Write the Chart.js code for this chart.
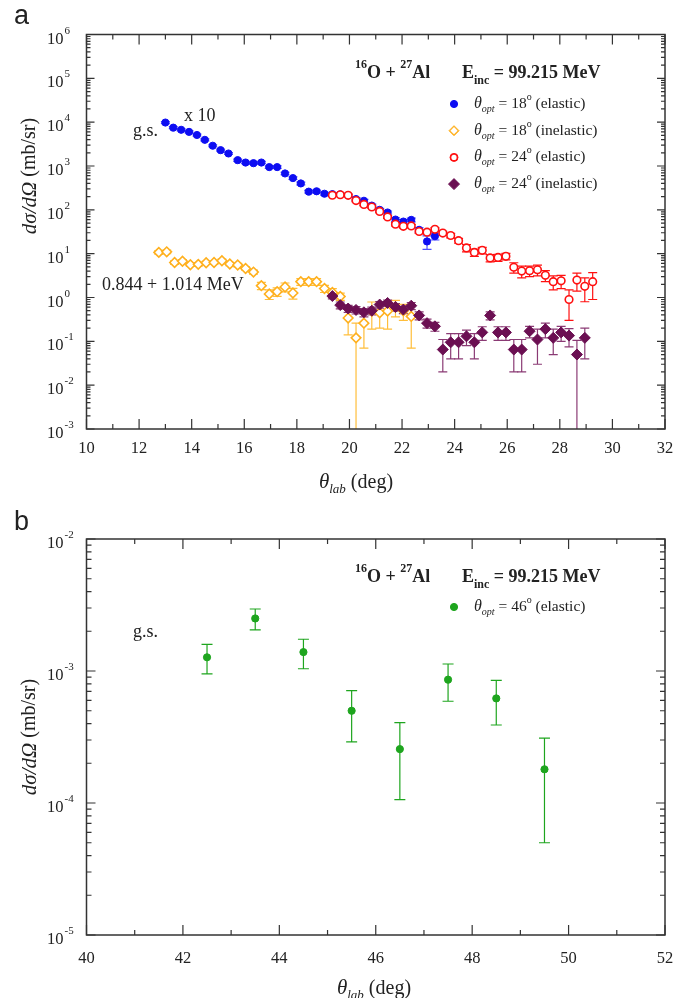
<!DOCTYPE html>
<html>
<head>
<meta charset="utf-8">
<script src="https://cdn.jsdelivr.net/npm/chart.js@4.4.0/dist/chart.umd.min.js"></script>
<style>
    html, body { margin: 0; padding: 0; background: #fff; }
    canvas { position: absolute; left: 0; }
    #graficoA { top: 0; }
    #graficoB { top: 499px; }
</style>
</head>
<body>
<canvas id="graficoA" width="688" height="499"></canvas>
<canvas id="graficoB" width="688" height="499"></canvas>
<script>
// Painel a: theta_lab (graus) e dσ/dΩ (mb/sr)
const thetaEl18 = [13.0, 13.3, 13.6, 13.9, 14.2, 14.5, 14.8, 15.1, 15.4, 15.75, 16.05, 16.35, 16.65, 16.95, 17.25, 17.55, 17.85, 18.15, 18.45, 18.75, 19.05, 19.35, 19.65, 19.95, 20.25, 20.55, 20.85, 21.15, 21.45, 21.75, 22.05, 22.35, 22.65, 22.95, 23.25];
const sigmaEl18 = [9800, 7500, 6700, 6000, 5100, 3950, 2900, 2300, 1930, 1360, 1200, 1160, 1200, 944, 944, 676, 530, 400, 260, 265, 233, 228, 225, 215, 176, 161, 125, 100, 87, 60, 54, 59, 35, 19, 25];
const erroEl18 = [500, 400, 350, 300, 260, 200, 150, 120, 100, 80, 70, 70, 70, 60, 60, 45, 35, 28, 18, 18, 16, 16, 16, 15, 13, 12, 10, 8, 7, 6, 6, 6, 4, 6.5, 4.5];

const thetaIn18 = [12.75, 13.05, 13.35, 13.65, 13.95, 14.25, 14.55, 14.85, 15.15, 15.45, 15.75, 16.05, 16.35, 16.65, 16.95, 17.25, 17.55, 17.85, 18.15, 18.45, 18.75, 19.05, 19.35, 19.65, 19.95, 20.25, 20.55, 20.85, 21.15, 21.45, 21.75, 22.05, 22.35];
const sigmaIn18 = [10.7, 11, 6.3, 6.7, 5.6, 5.7, 6.2, 6.3, 6.9, 5.8, 5.5, 4.6, 3.8, 1.86, 1.2, 1.36, 1.74, 1.27, 2.3, 2.3, 2.3, 1.6, 1.3, 1.06, 0.34, 0.12, 0.26, 0.49, 0.45, 0.49, 0.61, 0.5, 0.37];
const erroIn18 = [1.0, 1.0, 0.6, 0.6, 0.5, 0.5, 0.5, 0.5, 0.6, 0.5, 0.5, 0.4, 0.4, 0.35, 0.3, 0.3, 0.4, 0.35, 0.4, 0.4, 0.4, 0.3, 0.3, 0.2, 0.2, 0.14, 0.19, 0.3, 0.25, 0.3, 0.25, 0.2, 0.3];

const thetaEl24 = [19.35, 19.65, 19.95, 20.25, 20.55, 20.85, 21.15, 21.45, 21.75, 22.05, 22.35, 22.65, 22.95, 23.25, 23.55, 23.85, 24.15, 24.45, 24.75, 25.05, 25.35, 25.65, 25.95, 26.25, 26.55, 26.85, 27.15, 27.45, 27.75, 28.05, 28.35, 28.65, 28.95, 29.25];
const sigmaEl24 = [215, 221, 214, 163, 133, 116, 92, 69, 47, 42, 43, 32, 31, 36, 29.5, 26, 19.8, 13.5, 10.7, 11.9, 8.0, 8.2, 8.7, 4.9, 4.0, 4.1, 4.3, 3.2, 2.3, 2.4, 0.9, 2.5, 1.8, 2.3];
const erroEl24 = [12, 12, 12, 10, 8, 7, 6, 5, 4, 3.5, 3.5, 3, 3, 3, 3, 3, 2.5, 2.5, 2, 2, 1.5, 1.5, 1.5, 1.3, 1.2, 1.1, 1.2, 0.9, 0.8, 0.8, 0.6, 1.1, 1.0, 1.4];

const thetaIn24 = [19.35, 19.65, 19.95, 20.25, 20.55, 20.85, 21.15, 21.45, 21.75, 22.05, 22.35, 22.65, 22.95, 23.25, 23.55, 23.85, 24.15, 24.45, 24.75, 25.05, 25.35, 25.65, 25.95, 26.25, 26.55, 26.85, 27.15, 27.45, 27.75, 28.05, 28.35, 28.65, 28.95];
const sigmaIn24 = [1.08, 0.67, 0.56, 0.52, 0.46, 0.5, 0.69, 0.75, 0.61, 0.53, 0.65, 0.39, 0.26, 0.22, 0.065, 0.095, 0.095, 0.13, 0.095, 0.16, 0.39, 0.16, 0.16, 0.065, 0.065, 0.17, 0.11, 0.19, 0.12, 0.16, 0.135, 0.05, 0.12];
const erroIn24 = [0.15, 0.12, 0.1, 0.1, 0.1, 0.1, 0.12, 0.12, 0.12, 0.1, 0.12, 0.08, 0.06, 0.05, 0.045, 0.055, 0.055, 0.05, 0.055, 0.055, 0.08, 0.055, 0.055, 0.045, 0.045, 0.05, 0.08, 0.07, 0.07, 0.06, 0.06, 0.055, 0.08];

// Painel b
const thetaEl46 = [42.5, 43.5, 44.5, 45.5, 46.5, 47.5, 48.5, 49.5];
const sigmaEl46 = [1.27e-3, 2.5e-3, 1.39e-3, 5.0e-4, 2.56e-4, 8.6e-4, 6.2e-4, 1.8e-4];
const erroEl46 = [3.2e-4, 4.5e-4, 3.5e-4, 2.1e-4, 1.5e-4, 2.7e-4, 2.3e-4, 1.3e-4];

// Ticks dos eixos
const ticksXA = [10, 12, 14, 16, 18, 20, 22, 24, 26, 28, 30, 32];
const ticksXB = [40, 42, 44, 46, 48, 50, 52];
const expoentesA = [-3, -2, -1, 0, 1, 2, 3, 4, 5, 6];
const expoentesB = [-5, -4, -3, -2];

const SERIF = "'Liberation Serif', 'Times New Roman', serif";
const SANS = "'Liberation Sans', Arial, sans-serif";
const COR_EIXO = '#333';

document.addEventListener("DOMContentLoaded", function () {

    function pontos(xs, ys) {
        return xs.map((x, i) => ({ x: x, y: ys[i] }));
    }

    // Escreve texto em pedaços (para sub e sobrescritos)
    function partes(ctx, x, y, lista) {
        let cx = x;
        for (const p of lista) {
            ctx.font = p[1];
            ctx.fillText(p[0], cx, y + (p[2] || 0));
            cx += ctx.measureText(p[0]).width;
        }
        return cx;
    }

    function larguraPartes(ctx, lista) {
        let w = 0;
        for (const p of lista) {
            ctx.font = p[1];
            w += ctx.measureText(p[0]).width;
        }
        return w;
    }

    // Barras de erro desenhadas antes dos marcadores
    const barrasErro = {
        id: 'barrasErro',
        beforeDatasetsDraw(chart) {
            const ctx = chart.ctx;
            const area = chart.chartArea;
            const x = chart.scales.x, y = chart.scales.y;
            const aba = chart.options.plugins.barrasErro.aba;
            ctx.save();
            ctx.beginPath();
            ctx.rect(area.left, area.top, area.right - area.left, area.bottom - area.top);
            ctx.clip();
            for (let d = chart.data.datasets.length - 1; d >= 0; d--) {
                const ds = chart.data.datasets[d];
                ctx.strokeStyle = ds.corErro;
                ctx.lineWidth = 1.2;
                ds.data.forEach(function (p, i) {
                    const e = ds.erros[i];
                    const px = x.getPixelForValue(p.x);
                    const yCima = y.getPixelForValue(p.y + e);
                    const baixo = p.y - e;
                    const yBaixo = baixo > 0 ? y.getPixelForValue(baixo) : area.bottom + 5;
                    ctx.beginPath();
                    ctx.moveTo(px, yCima);
                    ctx.lineTo(px, yBaixo);
                    ctx.moveTo(px - aba, yCima);
                    ctx.lineTo(px + aba, yCima);
                    if (baixo > 0) {
                        ctx.moveTo(px - aba, yBaixo);
                        ctx.lineTo(px + aba, yBaixo);
                    }
                    ctx.stroke();
                });
            }
            ctx.restore();
        }
    };

    // Moldura, ticks para dentro nos quatro lados e rótulos 10^n
    function fazerMoldura(expoentes, tamMaior, tamMenor) {
        return {
            id: 'moldura',
            afterDraw(chart) {
                const ctx = chart.ctx;
                const a = chart.chartArea;
                const x = chart.scales.x, y = chart.scales.y;
                ctx.save();
                ctx.strokeStyle = COR_EIXO;
                ctx.lineWidth = 1.5;
                ctx.strokeRect(a.left, a.top, a.right - a.left, a.bottom - a.top);
                ctx.lineWidth = 1.2;
                ctx.beginPath();
                for (let v = x.min; v <= x.max; v++) {
                    const px = x.getPixelForValue(v);
                    const t = (v % 2 === 0) ? 10 : 5;
                    ctx.moveTo(px, a.bottom); ctx.lineTo(px, a.bottom - t);
                    ctx.moveTo(px, a.top); ctx.lineTo(px, a.top + t);
                }
                for (let k = 0; k < expoentes.length; k++) {
                    const base = Math.pow(10, expoentes[k]);
                    for (let m = 1; m <= 9; m++) {
                        if (k === expoentes.length - 1 && m > 1) break;
                        const py = y.getPixelForValue(m * base);
                        const t = m === 1 ? tamMaior : tamMenor;
                        ctx.moveTo(a.left, py); ctx.lineTo(a.left + t, py);
                        ctx.moveTo(a.right, py); ctx.lineTo(a.right - t, py);
                    }
                }
                ctx.stroke();

                ctx.fillStyle = '#222';
                ctx.textAlign = 'left';
                ctx.textBaseline = 'alphabetic';
                for (const e of expoentes) {
                    const py = y.getPixelForValue(Math.pow(10, e));
                    ctx.font = '16.5px ' + SERIF;
                    ctx.fillText('10', 47, py + 9);
                    ctx.font = '11px ' + SERIF;
                    ctx.fillText(String(e), 64.5, py - 1);
                }
                ctx.restore();
            }
        };
    }

    // Títulos dos eixos, cabeçalho e legenda
    function fazerTextos(cfg) {
        return {
            id: 'textos',
            afterDraw(chart) {
                const ctx = chart.ctx;
                const area = chart.chartArea;
                ctx.save();
                ctx.fillStyle = '#222';
                ctx.textAlign = 'left';
                ctx.textBaseline = 'alphabetic';

                // letra do painel
                ctx.font = '27px ' + SANS;
                ctx.fillText(cfg.letra, 14, cfg.yLetra);

                // título x
                const tx = [['θ', 'italic 21px ' + SERIF], ['lab', 'italic 13px ' + SERIF, 5], [' (deg)', '20px ' + SERIF]];
                partes(ctx, cfg.xTituloX - larguraPartes(ctx, tx) / 2, area.bottom + 59, tx);

                // título y (girado)
                const ty = [['dσ/dΩ', 'italic 21px ' + SERIF], [' (mb/sr)', '20px ' + SERIF]];
                const wy = larguraPartes(ctx, ty);
                ctx.save();
                ctx.translate(30, cfg.yTituloY);
                ctx.rotate(-Math.PI / 2);
                ctx.textBaseline = 'middle';
                partes(ctx, -wy / 2, 0, ty);
                ctx.restore();

                // cabeçalho
                const yc = area.top + 43;
                const b18 = 'bold 18px ' + SERIF, b12 = 'bold 12px ' + SERIF;
                partes(ctx, 355, yc, [['16', b12, -10], ['O + ', b18], ['27', b12, -10], ['Al', b18]]);
                partes(ctx, 462, yc, [['E', b18], ['inc', b12, 6], [' = 99.215 MeV', b18]]);

                // legenda
                cfg.legenda.forEach(function (item, i) {
                    const ly = area.top + cfg.yLegenda + i * 26.7;
                    ctx.fillStyle = item.cor;
                    ctx.strokeStyle = item.cor;
                    Chart.helpers.drawPoint(ctx, {
                        pointStyle: item.estilo, radius: item.raio, borderWidth: item.borda, rotation: 0
                    }, 454, ly);
                    if (item.vazio) {
                        ctx.fillStyle = '#fff';
                        Chart.helpers.drawPoint(ctx, {
                            pointStyle: item.estilo, radius: item.raio - 1.4, borderWidth: 0, rotation: 0
                        }, 454, ly);
                    }
                    ctx.fillStyle = '#222';
                    const r = '15.5px ' + SERIF, ri = 'italic 16px ' + SERIF, s = '10px ' + SERIF;
                    partes(ctx, 474, ly + 4, [['θ', ri], ['opt', 'italic 10px ' + SERIF, 4], [' = ' + item.angulo, r], ['o', s, -8], [' (' + item.tipo + ')', r]]);
                });

                // anotações
                ctx.font = '18px ' + SERIF;
                cfg.notas.forEach(function (n) {
                    ctx.fillText(n[0], n[1], n[2]);
                });
                ctx.restore();
            }
        };
    }

    function criarGrafico(idCanvas, cfg) {
        const ctx = document.getElementById(idCanvas).getContext('2d');
        return new Chart(ctx, {
            type: 'scatter',
            data: { datasets: cfg.datasets },
            options: {
                responsive: false,
                animation: false,
                devicePixelRatio: 1,
                layout: { padding: { top: cfg.topo, right: 23, left: 0, bottom: 0 } },
                plugins: {
                    legend: { display: false },
                    tooltip: { enabled: false },
                    barrasErro: { aba: cfg.aba }
                },
                scales: {
                    x: {
                        type: 'linear',
                        min: cfg.ticksX[0],
                        max: cfg.ticksX[cfg.ticksX.length - 1],
                        afterBuildTicks: function (eixo) {
                            eixo.ticks = cfg.ticksX.map(v => ({ value: v }));
                        },
                        afterFit: function (eixo) { eixo.height = cfg.alturaX; },
                        ticks: {
                            font: { family: SERIF, size: 16.5 },
                            color: '#222',
                            padding: cfg.folgaX,
                            maxRotation: 0,
                            autoSkip: false
                        },
                        grid: { display: false, drawTicks: false },
                        border: { display: false }
                    },
                    y: {
                        type: 'logarithmic',
                        min: Math.pow(10, cfg.expoentes[0]),
                        max: Math.pow(10, cfg.expoentes[cfg.expoentes.length - 1]),
                        afterFit: function (eixo) { eixo.width = 86.5; },
                        ticks: { display: false },
                        grid: { display: false, drawTicks: false },
                        border: { display: false }
                    }
                }
            },
            plugins: [barrasErro, fazerMoldura(cfg.expoentes, cfg.tickMaior, cfg.tickMenor), fazerTextos(cfg)]
        });
    }

    const azul = '#0d0df2', vermelho = '#ff1010', laranja = '#ffb01e', roxo = '#6b0f52', verde = '#1ea51e';

    // Painel a
    criarGrafico('graficoA', {
        topo: 34.5,
        alturaX: 70,
        folgaX: 10,
        ticksX: ticksXA,
        expoentes: expoentesA,
        tickMaior: 8,
        tickMenor: 4,
        aba: 4.5,
        letra: 'a',
        yLetra: 24,
        xTituloX: 356,
        yTituloY: 176,
        yLegenda: 69.5,
        legenda: [
            { cor: azul, estilo: 'circle', raio: 3.6, borda: 1, angulo: '18', tipo: 'elastic' },
            { cor: laranja, estilo: 'rectRot', raio: 5, borda: 1, angulo: '18', tipo: 'inelastic', vazio: true },
            { cor: vermelho, estilo: 'circle', raio: 4, borda: 1, angulo: '24', tipo: 'elastic', vazio: true },
            { cor: roxo, estilo: 'rectRot', raio: 5.5, borda: 1, angulo: '24', tipo: 'inelastic' }
        ],
        notas: [['x 10', 184, 121], ['g.s.', 133, 136], ['0.844 + 1.014 MeV', 102, 290]],
        datasets: [
            {
                label: 'θopt = 24° (inelastic)', data: pontos(thetaIn24, sigmaIn24), erros: erroIn24,
                pointStyle: 'rectRot', pointRadius: 5.5, backgroundColor: roxo, borderColor: roxo,
                borderWidth: 1, corErro: '#8a3a74'
            },
            {
                label: 'θopt = 24° (elastic)', data: pontos(thetaEl24, sigmaEl24), erros: erroEl24,
                pointStyle: 'circle', pointRadius: 3.8, backgroundColor: '#fff', borderColor: vermelho,
                borderWidth: 1.6, corErro: vermelho
            },
            {
                label: 'θopt = 18° (inelastic)', data: pontos(thetaIn18, sigmaIn18), erros: erroIn18,
                pointStyle: 'rectRot', pointRadius: 4.8, backgroundColor: '#fff', borderColor: laranja,
                borderWidth: 1.6, corErro: '#ffbe3a'
            },
            {
                label: 'θopt = 18° (elastic)', data: pontos(thetaEl18, sigmaEl18), erros: erroEl18,
                pointStyle: 'circle', pointRadius: 3.6, backgroundColor: azul, borderColor: azul,
                borderWidth: 1, corErro: '#4d4dff'
            }
        ]
    });

    // Painel b
    criarGrafico('graficoB', {
        topo: 40,
        alturaX: 63,
        folgaX: 14,
        ticksX: ticksXB,
        expoentes: expoentesB,
        tickMaior: 9,
        tickMenor: 5,
        aba: 5.5,
        letra: 'b',
        yLetra: 31,
        xTituloX: 374,
        yTituloY: 238,
        yLegenda: 68,
        legenda: [
            { cor: verde, estilo: 'circle', raio: 3.6, borda: 1, angulo: '46', tipo: 'elastic' }
        ],
        notas: [['g.s.', 133, 138]],
        datasets: [
            {
                label: 'θopt = 46° (elastic)', data: pontos(thetaEl46, sigmaEl46), erros: erroEl46,
                pointStyle: 'circle', pointRadius: 3.6, backgroundColor: verde, borderColor: verde,
                borderWidth: 1, corErro: verde
            }
        ]
    });
});
</script>
</body>
</html>
